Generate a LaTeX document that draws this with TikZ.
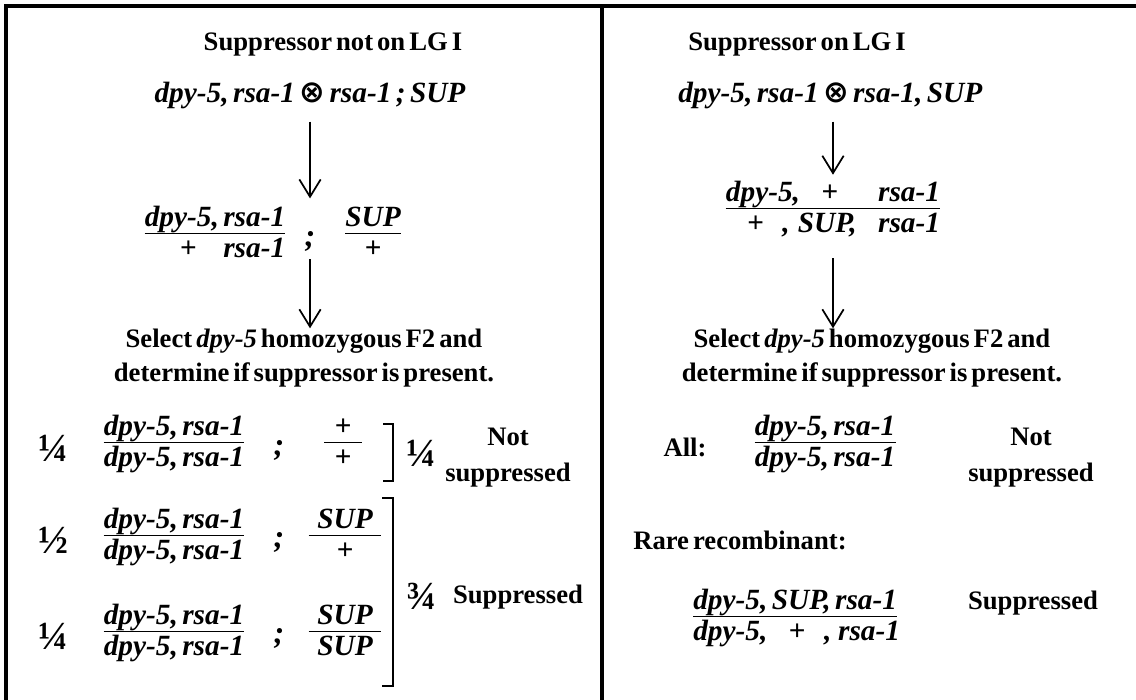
\documentclass[tikz,border=0pt]{standalone}
\usepackage{fontspec}
\setmainfont{Liberation Serif}[WordSpace=0.6]
\newfontfamily\symfont{DejaVu Sans}
\usetikzlibrary{positioning,arrows.meta}
\tikzset{
  frm/.style  = {line width=2.4pt},
  hd/.style   = {font=\fontsize{20}{24}\selectfont\bfseries, inner sep=0pt},
  txt/.style  = {font=\fontsize{20}{26}\selectfont\bfseries, align=center, inner sep=0pt},
  res/.style  = {font=\fontsize{20}{27}\selectfont\bfseries, align=center, inner sep=0pt},
  geno/.style = {font=\fontsize{22}{25}\selectfont\bfseries\itshape, inner sep=0pt,
                 text height=15pt, text depth=5pt},
  semi/.style = {font=\fontsize{24}{25}\selectfont\bfseries\itshape, inner sep=0pt},
  frc/.style  = {font=\fontsize{30}{30}\selectfont\bfseries, inner sep=0pt},
  bar/.style  = {line width=1.3pt},
  brk/.style  = {line width=1.8pt},
  flow/.style = {-{Straight Barb[length=13pt, width=16pt]}, line width=1.3pt},
}
\newcommand{\cross}{{\upshape\symfont\fontsize{23}{25}\selectfont ⊗}}

\begin{document}
\begin{tikzpicture}[x=0.75pt, y=-0.75pt, node distance=3pt]
  \useasboundingbox (0,0) rectangle (1136,700);
  \draw[frm] (1136,6) -- (6,6) -- (6,700);
  \draw[frm] (602,6) -- (602,700);

  % left panel: suppressor unlinked
  \node[hd] (headL) at (333,45) {Suppressor not on LG I};
  \node[geno] (crossL) at (310,96) {dpy-5, rsa-1 \cross{} rsa-1 ; SUP};
  \node[geno] (f1Ln) at (215,220) {dpy-5, rsa-1};
  \node[geno, below=of f1Ln.south east, anchor=north east] (f1Ld) {+\hspace{20pt}rsa-1};
  \node[semi] (semiL) at (310,241) {;};
  \node[geno] (supLn) at (373,220) {SUP};
  \node[geno, below=of supLn] (supLd) {+};
  \draw[bar] (f1Ln.south west) -- (f1Ln.south east);
  \draw[bar] (supLn.south west) -- (supLn.south east);
  \draw[flow, shorten <=9pt, shorten >=6pt] (crossL.south -| semiL) -- (semiL |- f1Ln.north);
  \node[txt] (selL) at (304,358) {Select \textit{dpy-5} homozygous F2 and\\determine if suppressor is present.};
  \draw[flow, shorten <=6pt] (semiL.south) -- (semiL |- selL.north);

  \node[frc] (q1) at (53,448) {¼};
  \node[geno] (r1n) at (174,429) {dpy-5, rsa-1};
  \node[geno, below=of r1n] (r1d) {dpy-5, rsa-1};
  \node[semi] (s1) at (279,450) {;};
  \node[geno, minimum width=28pt] (p1n) at (343,429) {+};
  \node[geno, below=of p1n] (p1d) {+};
  \draw[bar] (r1n.south west) -- (r1n.south east);
  \draw[bar] (p1n.south west) -- (p1n.south east);

  \node[frc] (q2) at (53,540) {½};
  \node[geno] (r2n) at (174,522) {dpy-5, rsa-1};
  \node[geno, below=of r2n] (r2d) {dpy-5, rsa-1};
  \node[semi] (s2) at (279,542) {;};
  \node[geno, minimum width=54pt] (p2n) at (345,522) {SUP};
  \node[geno, below=of p2n] (p2d) {+};
  \draw[bar] (r2n.south west) -- (r2n.south east);
  \draw[bar] (p2n.south west) -- (p2n.south east);

  \node[frc] (q3) at (53,636) {¼};
  \node[geno] (r3n) at (174,618) {dpy-5, rsa-1};
  \node[geno, below=of r3n] (r3d) {dpy-5, rsa-1};
  \node[semi] (s3) at (279,638) {;};
  \node[geno, minimum width=54pt] (p3n) at (345,618) {SUP};
  \node[geno, below=of p3n] (p3d) {SUP};
  \draw[bar] (r3n.south west) -- (r3n.south east);
  \draw[bar] (p3n.south west) -- (p3n.south east);

  \draw[brk] (383,424) -| (393,481) -- (383,481);
  \draw[brk] (382,498) -| (393,686) -- (382,686);
  \node[frc] (q4) at (421,453) {¼};
  \node[res] (notL) at (508,458) {Not\\suppressed};
  \node[frc] (q5) at (421,596) {¾};
  \node[res] (supdL) at (518,597) {Suppressed};

  % right panel: suppressor linked
  \node[hd, anchor=west] (headR) at (688,45) {Suppressor on LG I};
  \node[geno, anchor=west] (crossR) at (678,96) {dpy-5, rsa-1 \cross{} rsa-1, SUP};
  \node[geno] (f1Rn) at (833,195) {dpy-5,\hspace{16pt}+\hspace{30pt}rsa-1};
  \node[geno, below=of f1Rn.south east, anchor=north east] (f1Rd) {+\hspace{14pt},\hspace{6pt}SUP,\hspace{16pt}rsa-1};
  \draw[bar] (f1Rn.south west) -- (f1Rn.south east);
  \draw[flow, shorten <=9pt, shorten >=5pt] (crossR.south -| f1Rn) -- (f1Rn.north);
  \node[txt] (selR) at (872,358) {Select \textit{dpy-5} homozygous F2 and\\determine if suppressor is present.};
  \draw[flow, shorten <=14pt] (f1Rd.south -| f1Rn) -- (f1Rn |- selR.north);

  \node[txt] (allR) at (685,447) {All:};
  \node[geno] (rAn) at (825,429) {dpy-5, rsa-1};
  \node[geno, below=of rAn] (rAd) {dpy-5, rsa-1};
  \draw[bar] (rAn.south west) -- (rAn.south east);
  \node[res] (notR) at (1031,458) {Not\\suppressed};

  \node[txt, anchor=west] (rareR) at (633,540) {Rare recombinant:};
  \node[geno, anchor=west] (rRn) at (693,603) {dpy-5, SUP, rsa-1};
  \node[geno, below=of rRn.south west, anchor=north west] (rRd) {dpy-5,\hspace{16pt}+\hspace{14pt},\hspace{5pt}rsa-1};
  \draw[bar] (rRn.south west) -- (rRn.south east);
  \node[res] (supdR) at (1033,603) {Suppressed};
\end{tikzpicture}
\end{document}
